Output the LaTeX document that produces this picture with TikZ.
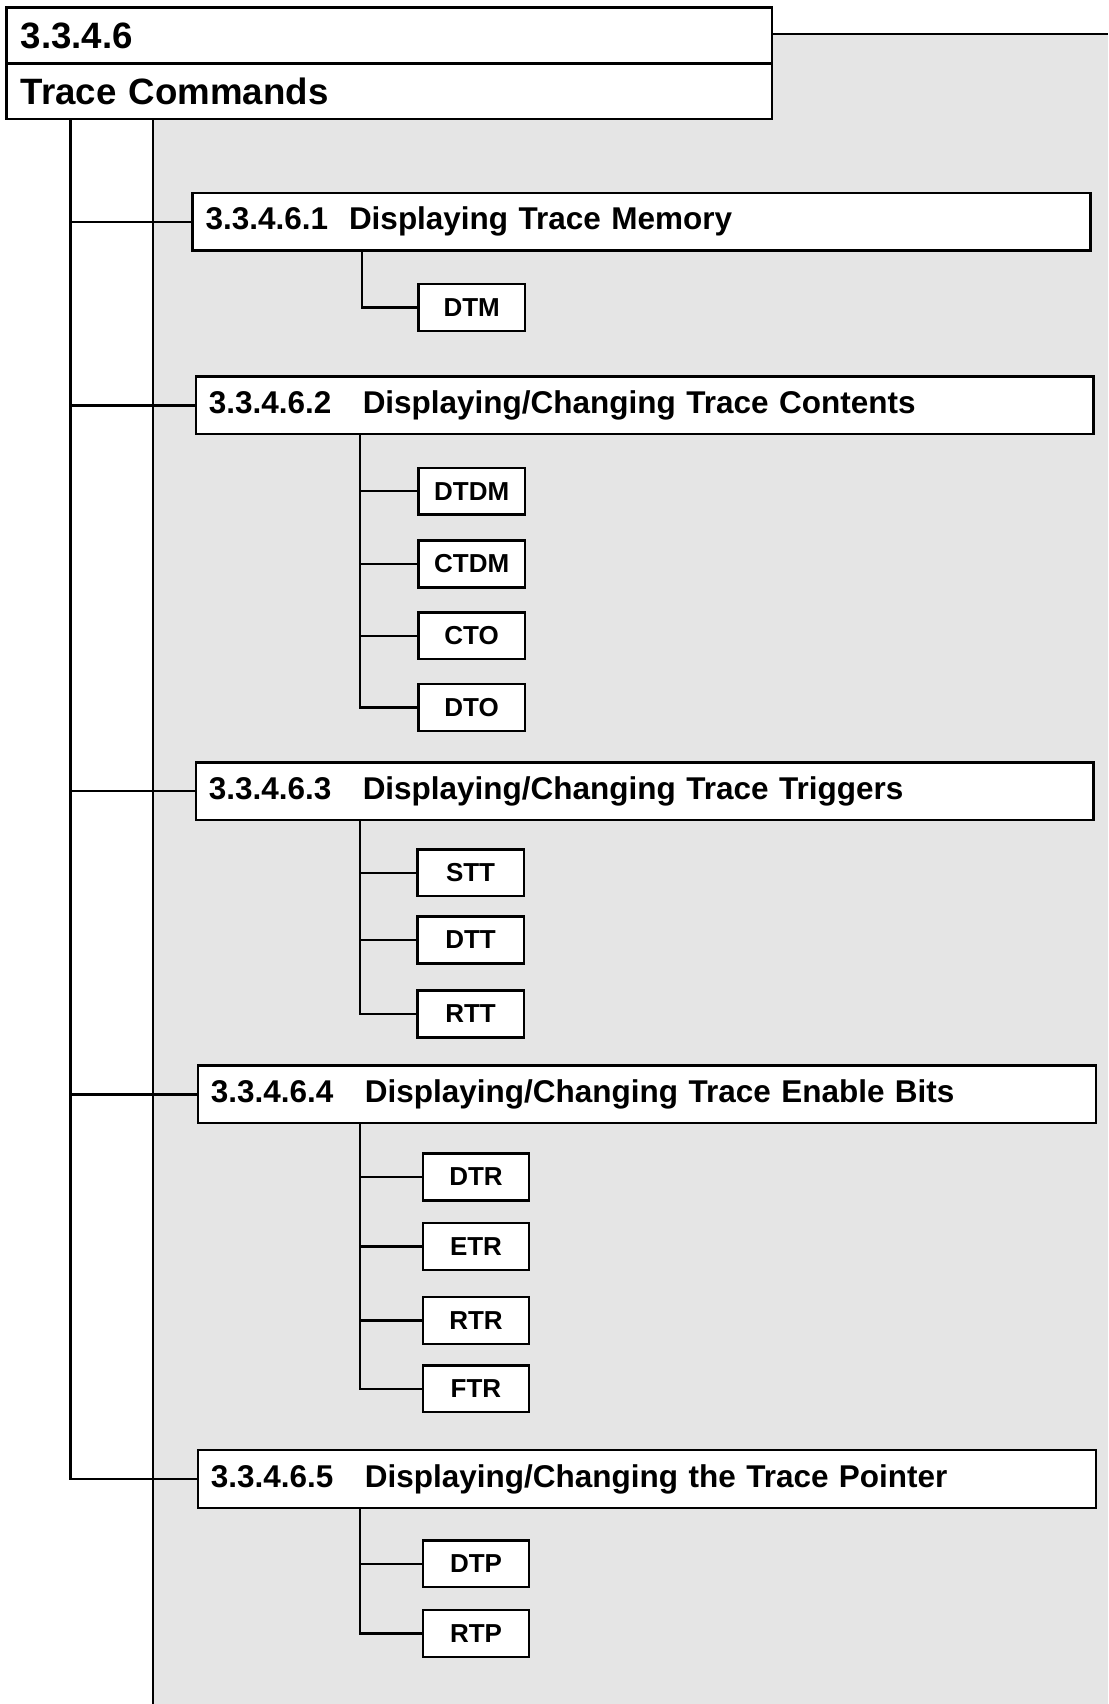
\documentclass[tikz,border=0pt]{standalone}
\usepackage{fontspec}
\setmainfont{Liberation Sans}
\usepackage{tikz}
\usetikzlibrary{positioning}

\tikzset{
  titlebox/.style={draw, fill=white, line width=1.6pt, anchor=west, minimum width=17.6cm,
    text width=16.95cm, inner xsep=0.325cm, align=left, font=\fontsize{24}{28}\selectfont\bfseries},
  secbox/.style={draw, fill=white, line width=1.6pt, anchor=west, minimum height=1.325cm,
    text width=20.05cm, inner xsep=0.3cm, align=left, font=\fontsize{20.6}{24}\selectfont\bfseries},
  cmdbox/.style={draw, fill=white, line width=1.6pt, minimum width=2.45cm, minimum height=1.075cm,
    inner sep=0pt, font=\fontsize{17}{20}\selectfont\bfseries},
  branch/.style={line width=1.5pt}
}

\begin{document}
\begin{tikzpicture}[x=0.025cm, y=-0.025cm]
        \useasboundingbox (0,0) rectangle (1020,1568);
        \fill[gray!20] (141,31) rectangle (1020,1568);
        \draw[branch] (709,31) -- (1020,31);
        \draw[branch] (141,109) -- (141,1568);

        \node (num)[titlebox, minimum height=1.3cm] at (5,33) {3.3.4.6};
        \node (title)[titlebox, minimum height=1.275cm] at (5,84) {Trace Commands};

        \node (sec1)[secbox] at (176,204) {3.3.4.6.1\ \ Displaying Trace Memory};
        \node (sec2)[secbox] at (179,373) {3.3.4.6.2\ \ \ Displaying/Changing Trace Contents};
        \node (sec3)[secbox] at (179,728) {3.3.4.6.3\ \ \ Displaying/Changing Trace Triggers};
        \node (sec4)[secbox] at (181,1007) {3.3.4.6.4\ \ \ Displaying/Changing Trace Enable Bits};
        \node (sec5)[secbox] at (181,1361) {3.3.4.6.5\ \ \ Displaying/Changing the Trace Pointer};

        \node (dtm)[cmdbox] at (434,283) {DTM};

        \node (dtdm)[cmdbox] at (434,452) {DTDM};
        \node (ctdm)[cmdbox] at (434,519) {CTDM};
        \node (cto)[cmdbox] at (434,585) {CTO};
        \node (dto)[cmdbox] at (434,651) {DTO};

        \node (stt)[cmdbox] at (433,803) {STT};
        \node (dtt)[cmdbox] at (433,865) {DTT};
        \node (rtt)[cmdbox] at (433,933) {RTT};

        \node (dtr)[cmdbox] at (438,1083) {DTR};
        \node (etr)[cmdbox] at (438,1147) {ETR};
        \node (rtr)[cmdbox] at (438,1215) {RTR};
        \node (ftr)[cmdbox] at (438,1278) {FTR};

        \node (dtp)[cmdbox] at (438,1439) {DTP};
        \node (rtp)[cmdbox] at (438,1503) {RTP};

        \coordinate (spine) at (65,109);
        \draw[branch] (spine) |- (sec5.west);
        \foreach \s in {sec1,sec2,sec3,sec4}
            \draw[branch] (\s.west -| spine) -- (\s.west);

        \coordinate (b1) at (333,231);
        \coordinate (b2) at (331,400);
        \coordinate (b3) at (331,755);
        \coordinate (b4) at (331,1034);
        \coordinate (b5) at (331,1388);

        \draw[branch] (b1) |- (dtm.west);

        \draw[branch] (b2) |- (dto.west);
        \foreach \c in {dtdm,ctdm,cto}
            \draw[branch] (\c.west -| b2) -- (\c.west);

        \draw[branch] (b3) |- (rtt.west);
        \foreach \c in {stt,dtt}
            \draw[branch] (\c.west -| b3) -- (\c.west);

        \draw[branch] (b4) |- (ftr.west);
        \foreach \c in {dtr,etr,rtr}
            \draw[branch] (\c.west -| b4) -- (\c.west);

        \draw[branch] (b5) |- (rtp.west);
        \draw[branch] (dtp.west -| b5) -- (dtp.west);
\end{tikzpicture}
\end{document}
